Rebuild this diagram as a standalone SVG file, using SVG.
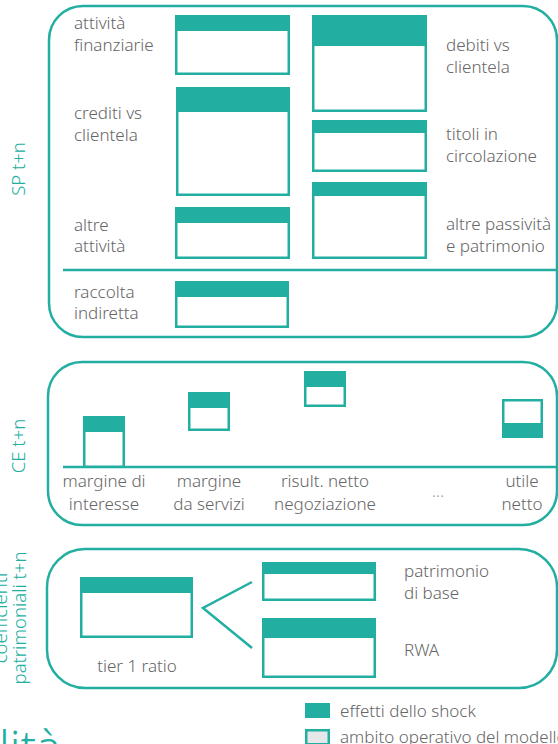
<svg xmlns="http://www.w3.org/2000/svg" width="558" height="744" viewBox="0 0 558 744">
<style>
.panel{fill:none;stroke:#22afa2;stroke-width:2.5}
.box{fill:#fff;stroke:#22afa2;stroke-width:2.5}
.shock{fill:#22afa2}
.ln{fill:none;stroke:#22afa2;stroke-width:2.5}
.t{font-family:"Noto Sans","Liberation Sans",sans-serif;font-weight:300;font-size:17px;fill:#666}
.c{text-anchor:middle}
.v{font-family:"Noto Sans","Liberation Sans",sans-serif;font-weight:300;font-size:18.5px;fill:#22afa2;text-anchor:middle}
</style>
<rect width="558" height="744" fill="#fff"/>

<g id="panel-sp">
<rect class="panel" x="49" y="6" width="508" height="331" rx="34"/>
<text class="v" transform="translate(25,169) rotate(-90)">SP t+n</text>
</g>
<g id="panel-ce">
<rect class="panel" x="48" y="362" width="509" height="163" rx="34"/>
<text class="v" transform="translate(25,446) rotate(-90)">CE t+n</text>
</g>
<g id="panel-coeff">
<rect class="panel" x="47" y="549" width="510" height="139" rx="38"/>
<text class="v" transform="translate(7,618) rotate(-90)">coefficienti</text>
<text class="v" transform="translate(26,618) rotate(-90)">patrimoniali t+n</text>
</g>

<g id="connectors">
<line class="ln" x1="63" y1="270" x2="557" y2="270"/>
<line class="ln" x1="63" y1="467" x2="557" y2="467"/>
<polyline class="ln" points="252,582 203,608 252,648"/>
</g>

<g id="attivita-finanziarie">
<rect class="box" x="176.25" y="16.25" width="112.5" height="57.5"/>
<rect class="shock" x="175" y="15" width="115" height="16"/>
<text class="t" x="74" y="29">attività</text>
<text class="t" x="74" y="51">finanziarie</text>
</g>
<g id="crediti-clientela">
<rect class="box" x="177.25" y="88.25" width="111.5" height="106.5"/>
<rect class="shock" x="176" y="87" width="114" height="25"/>
<text class="t" x="74" y="119">crediti vs</text>
<text class="t" x="74" y="141">clientela</text>
</g>
<g id="altre-attivita">
<rect class="box" x="176.25" y="208.25" width="112.5" height="49.5"/>
<rect class="shock" x="175" y="207" width="115" height="16"/>
<text class="t" x="74" y="231">altre</text>
<text class="t" x="74" y="252">attività</text>
</g>
<g id="raccolta-indiretta">
<rect class="box" x="176.25" y="282.25" width="111.5" height="44.5"/>
<rect class="shock" x="175" y="281" width="114" height="16"/>
<text class="t" x="74" y="298">raccolta</text>
<text class="t" x="74" y="319">indiretta</text>
</g>
<g id="debiti-clientela">
<rect class="box" x="313.25" y="16.25" width="112.5" height="94.5"/>
<rect class="shock" x="312" y="15" width="115" height="31"/>
<text class="t" x="446" y="51">debiti vs</text>
<text class="t" x="446" y="73">clientela</text>
</g>
<g id="titoli-circolazione">
<rect class="box" x="313.25" y="121.25" width="112.5" height="49.5"/>
<rect class="shock" x="312" y="120" width="115" height="13"/>
<text class="t" x="446" y="140">titoli in</text>
<text class="t" x="446" y="162">circolazione</text>
</g>
<g id="altre-passivita">
<rect class="box" x="313.25" y="183.25" width="112.5" height="74.5"/>
<rect class="shock" x="312" y="182" width="115" height="14"/>
<text class="t" x="446" y="230">altre passività</text>
<text class="t" x="446" y="252">e patrimonio</text>
</g>

<g id="margine-interesse">
<rect class="box" x="84.25" y="417.25" width="39.5" height="49.5"/>
<rect class="shock" x="83" y="416" width="42" height="16"/>
<text class="t c" x="104" y="487">margine di</text>
<text class="t c" x="104" y="510">interesse</text>
</g>
<g id="margine-servizi">
<rect class="box" x="189.25" y="393.25" width="39.5" height="36.5"/>
<rect class="shock" x="188" y="392" width="42" height="16"/>
<text class="t c" x="209" y="487">margine</text>
<text class="t c" x="209" y="510">da servizi</text>
</g>
<g id="risultato-negoziazione">
<rect class="box" x="305.25" y="372.25" width="39.5" height="33.5"/>
<rect class="shock" x="304" y="371" width="42" height="16"/>
<text class="t c" x="325" y="487">risult. netto</text>
<text class="t c" x="325" y="510">negoziazione</text>
</g>
<g id="ellipsis">
<text class="t c" x="438" y="497" style="fill:#9a9a9a">…</text>
</g>
<g id="utile-netto">
<rect class="box" x="503.25" y="400.25" width="38.5" height="36.5"/>
<rect class="shock" x="502" y="423" width="41" height="15"/>
<text class="t c" x="522" y="487">utile</text>
<text class="t c" x="522" y="510">netto</text>
</g>

<g id="tier1-ratio">
<rect class="box" x="81.25" y="578.25" width="110.5" height="58.5"/>
<rect class="shock" x="80" y="577" width="113" height="16"/>
<text class="t c" x="137" y="672">tier 1 ratio</text>
</g>
<g id="patrimonio-base">
<rect class="box" x="263.25" y="563.25" width="111.5" height="36.5"/>
<rect class="shock" x="262" y="562" width="114" height="12"/>
<text class="t" x="404" y="577">patrimonio</text>
<text class="t" x="404" y="599">di base</text>
</g>
<g id="rwa">
<rect class="box" x="263.25" y="619.25" width="111.5" height="57.5"/>
<rect class="shock" x="262" y="618" width="114" height="20"/>
<text class="t" x="404" y="656">RWA</text>
</g>

<g id="legend">
<rect class="shock" x="305" y="703" width="25" height="15"/>
<text class="t" x="340" y="717">effetti dello shock</text>
<rect x="306.25" y="730.25" width="22.5" height="14" fill="#e6e7e8" stroke="#22afa2" stroke-width="2.5"/>
<text class="t" x="340" y="743">ambito operativo del modello</text>
</g>

<g id="heading-fragment">
<text x="-1" y="764" style="font-family:'Noto Sans','Liberation Sans',sans-serif;font-weight:300;font-size:46px;fill:#22afa2">lità</text>
</g>
</svg>
